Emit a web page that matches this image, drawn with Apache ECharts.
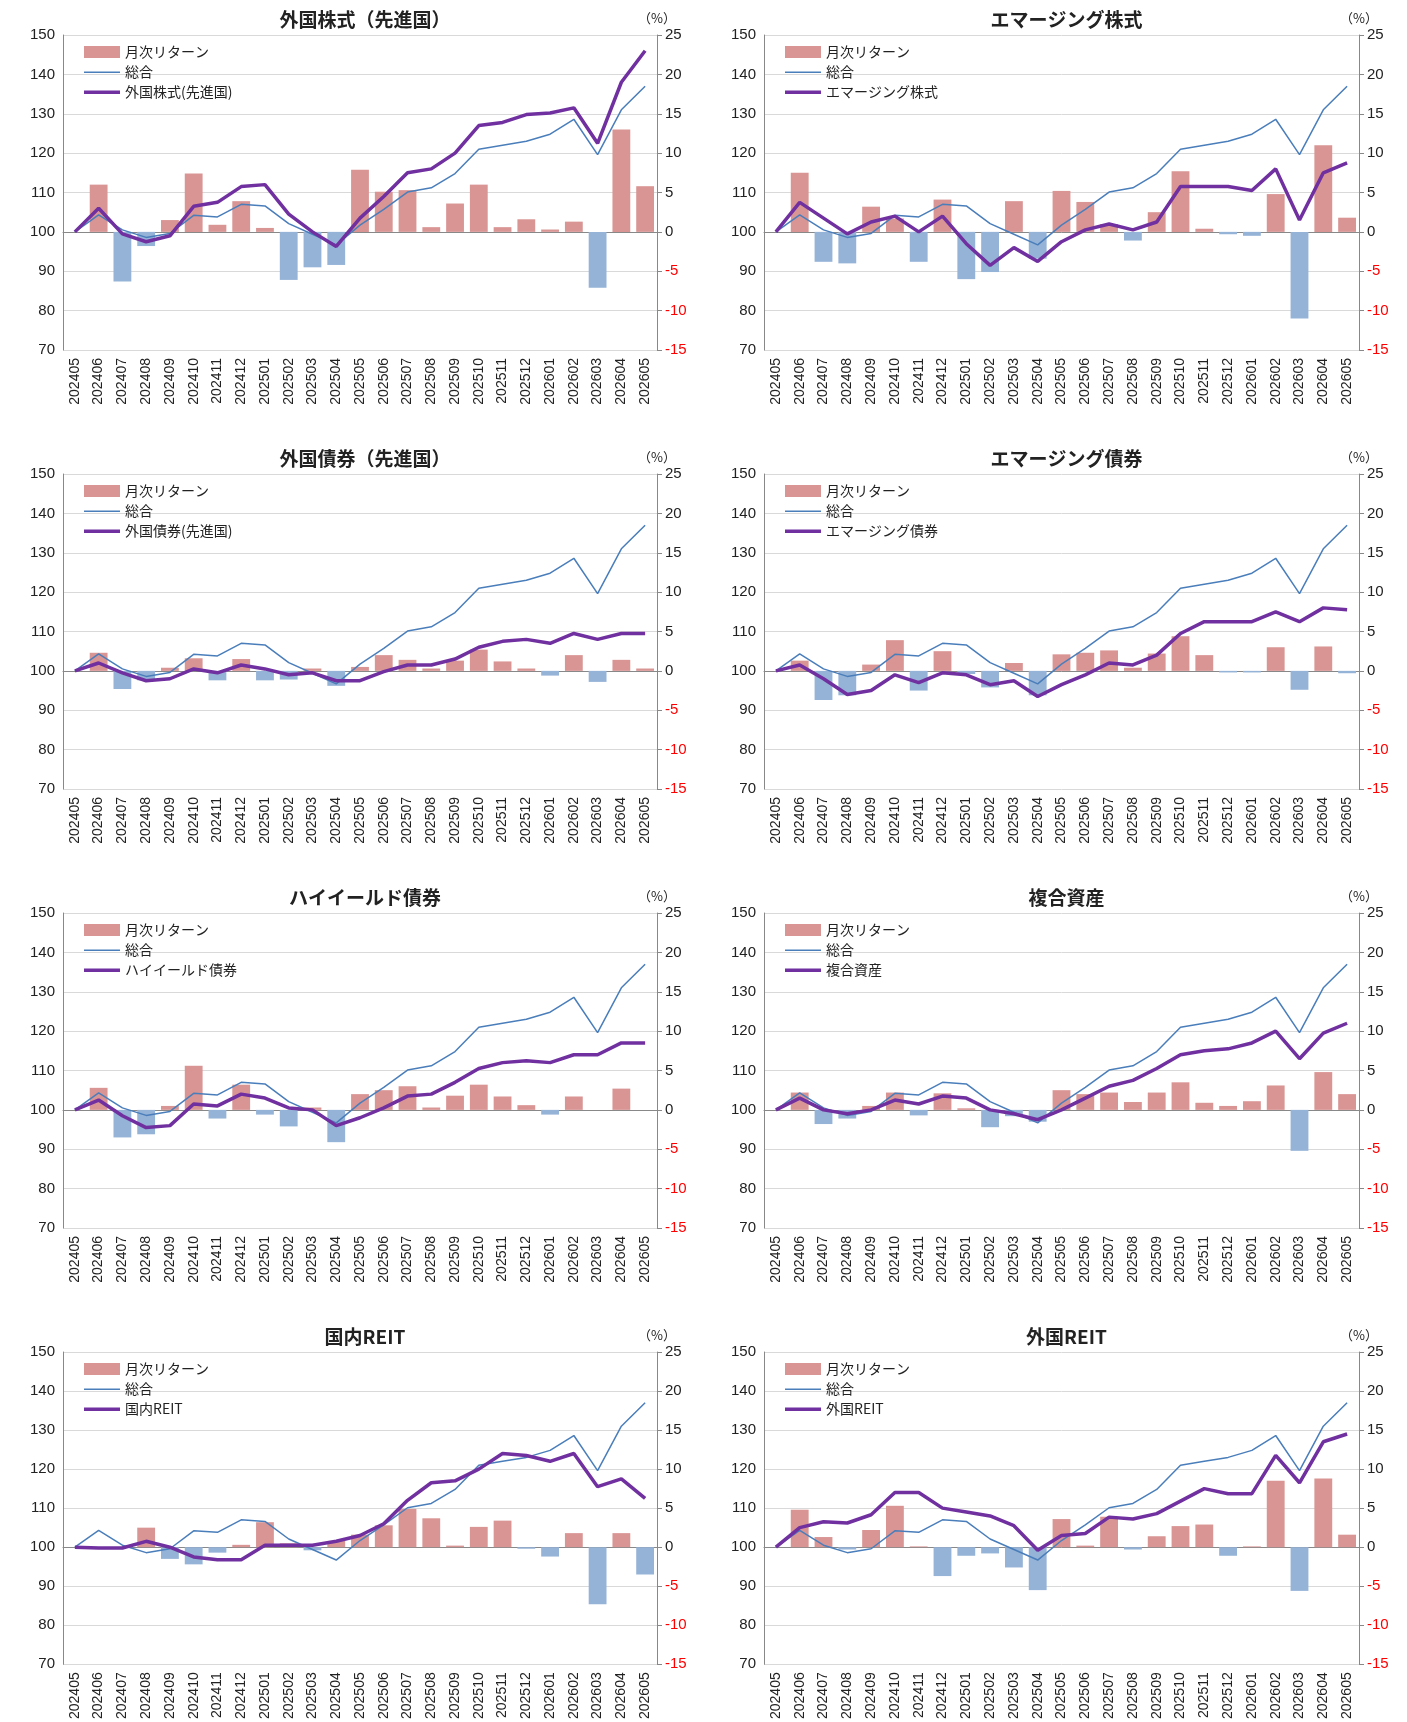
<!DOCTYPE html>
<html><head><meta charset="utf-8">
<script src="https://cdn.jsdelivr.net/npm/echarts@6/dist/echarts.min.js"></script>
<style>html,body{margin:0;background:#fff}#c{width:1407px;height:1722px}</style>
</head><body><div id="c"></div>
<script>
const months = ["202405","202406","202407","202408","202409","202410","202411","202412","202501","202502","202503","202504","202505","202506","202507","202508","202509","202510","202511","202512","202601","202602","202603","202604","202605"];
const total = [100,104.3,100.5,98.6,99.6,104.2,103.8,107,106.6,102.1,99.4,96.7,101.7,105.7,110.1,111.2,114.8,121,122,123,124.8,128.6,119.6,131,137];

const names = ["外国株式（先進国）","エマージング株式","外国債券（先進国）","エマージング債券","ハイイールド債券","複合資産","国内REIT","外国REIT"];
const legendNames = ["外国株式(先進国)","エマージング株式","外国債券(先進国)","エマージング債券","ハイイールド債券","複合資産","国内REIT","外国REIT"];

const lineDevStock = [100,106,99.5,97.5,99,106.5,107.5,111.5,112,104.5,100,96.3,103.5,109,115,116,120,127,127.8,129.8,130.2,131.5,122.5,138,146];
const barDevStock = [0,6,-6.3,-1.8,1.5,7.4,0.9,3.9,0.5,-6.1,-4.5,-4.2,7.9,5.1,5.3,0.6,3.6,6,0.6,1.6,0.3,1.3,-7.1,13,5.8];
const lineEmStock = [100,107.5,103.5,99.5,102.5,104,100,104,97,91.5,96,92.5,97.5,100.5,102,100.5,102.5,111.5,111.5,111.5,110.5,116,103,115,117.5];
const barEmStock = [0,7.5,-3.8,-4,3.2,1.7,-3.8,4.1,-6,-5.1,3.9,-3.4,5.2,3.8,1,-1.1,2.5,7.7,0.4,-0.3,-0.5,4.8,-11,11,1.8];
const lineDevBond = [100,102,99.5,97.5,98,100.5,99.5,101.5,100.5,99,99.5,97.5,97.5,99.8,101.5,101.5,103,106,107.5,108,107,109.5,108,109.5,109.5];
const barDevBond = [0,2.3,-2.3,-1.2,0.4,1.6,-1.2,1.5,-1.2,-1.1,0.3,-1.9,0.5,2,1.4,0.3,1.3,2.7,1.2,0.3,-0.6,2,-1.4,1.4,0.3];
const lineEmBond = [100,101.5,98,94,95,99,97,99.5,99,96.5,97.5,93.5,96.5,99,102,101.5,104,109.5,112.5,112.5,112.5,115,112.5,116,115.5];
const barEmBond = [0,1.3,-3.7,-3.1,0.8,3.9,-2.5,2.5,-0.4,-2.1,1,-3.1,2.1,2.3,2.6,0.4,2.2,4.4,2,-0.2,-0.2,3,-2.4,3.1,-0.3];
const lineHy = [100,102.5,98.5,95.5,96,101.5,101,104,103,100.5,100,96,98,100.5,103.5,104,107,110.5,112,112.5,112,114,114,117,117];
const barHy = [0,2.8,-3.5,-3.1,0.5,5.6,-1.1,3.2,-0.6,-2.1,0.3,-4.1,2,2.5,3,0.3,1.8,3.2,1.7,0.6,-0.6,1.7,0,2.7,0];
const lineMix = [100,103,100,99,100,102.5,101.5,103.5,103,100,99,97.5,100,103,106,107.5,110.5,114,115,115.5,117,120,113,119.5,122];
const barMix = [0,2.2,-1.8,-1.1,0.5,2.2,-0.7,2.1,0.2,-2.2,-0.8,-1.5,2.5,2,2.2,1,2.2,3.5,0.9,0.5,1.1,3.1,-5.2,4.8,2];
const lineJReit = [100,99.8,99.8,101.5,100,97.5,96.8,96.8,100.5,100.5,100.5,101.5,103,106,112,116.5,117,120,124,123.5,122,124,115.5,117.5,112.5];
const barJReit = [0,0,0,2.5,-1.5,-2.2,-0.7,0.3,3.2,0.5,-0.4,0.8,1.6,2.8,4.9,3.7,0.2,2.6,3.4,-0.2,-1.2,1.8,-7.3,1.8,-3.5];
const lineFReit = [100,105,106.5,106.2,108.3,114,114,110,109,108,105.5,99.2,103,103.5,107.7,107.2,108.6,111.8,115,113.7,113.7,123.5,116.5,127,129];
const barFReit = [0,4.8,1.3,-0.3,2.2,5.3,0.1,-3.7,-1.1,-0.8,-2.6,-5.5,3.6,0.2,3.9,-0.3,1.4,2.7,2.9,-1.1,0.1,8.5,-5.6,8.8,1.6];

const lines = [lineDevStock,lineEmStock,lineDevBond,lineEmBond,lineHy,lineMix,lineJReit,lineFReit];
const bars = [barDevStock,barEmStock,barDevBond,barEmBond,barHy,barMix,barJReit,barFReit];

const leftMin = 70, leftMax = 150, rightMin = -15, rightMax = 25;
const FONT = "'Noto Sans CJK JP', sans-serif";
const lefts = [63, 764], widths = [594, 595];
const tops = [35, 474, 913, 1352], gridH = 315;
const thinIcon = "path://M0,0h36v0.01h-36z M0,5.4h36v1.6h-36z M0,12h36v0.01h-36z";
const thickIcon = "path://M0,0h36v0.01h-36z M0,4.5h36v3.5h-36z M0,12h36v0.01h-36z";

const option = {animation:false, textStyle:{fontFamily:FONT}, title:[], grid:[], xAxis:[], yAxis:[], legend:[], series:[]};
names.forEach((name, i) => {
  const col = i % 2, row = Math.floor(i / 2);
  const l = lefts[col], t = tops[row];
  option.title.push({text:name, left:l + widths[col]/2, top:t - 30, textAlign:"center",
    textStyle:{fontSize:19, fontWeight:"bold", color:"#222", fontFamily:FONT}});
  option.grid.push({left:l, top:t, width:widths[col], height:gridH});
  option.xAxis.push({type:"category", gridIndex:i, data:months, boundaryGap:true,
    axisTick:{show:false}, axisLine:{lineStyle:{color:"#888"}},
    axisLabel:{rotate:90, fontSize:14, color:"#222", interval:0, fontFamily:"Liberation Sans"}});
  option.yAxis.push({type:"value", gridIndex:i, min:leftMin, max:leftMax, interval:10,
    axisLine:{show:true, lineStyle:{color:"#888"}}, axisTick:{show:false},
    splitLine:{lineStyle:{color:"#d9d9d9"}},
    axisLabel:{fontSize:15, color:"#222", fontFamily:"Liberation Sans"}});
  option.yAxis.push({type:"value", gridIndex:i, position:"right", min:rightMin, max:rightMax, interval:5,
    name:"（%）", nameGap:10, nameTextStyle:{fontSize:13, color:"#222", align:"center"},
    axisLine:{show:true, lineStyle:{color:"#888"}}, axisTick:{show:true, length:5, lineStyle:{color:"#888"}},
    splitLine:{show:false},
    axisLabel:{fontSize:15, fontFamily:"Liberation Sans", color:(v) => Number(v) < 0 ? "#ff0000" : "#222"}});
  option.legend.push({orient:"vertical", left:l + 16, top:t + 5, itemGap:6, itemWidth:36, itemHeight:12,
    data:[{name:"月次リターン", icon:"rect"}, {name:"総合", icon:thinIcon}, {name:legendNames[i], icon:thickIcon}],
    textStyle:{fontSize:14, color:"#222", fontFamily:FONT}, selectedMode:false});
  option.series.push({name:"月次リターン", type:"bar", xAxisIndex:i, yAxisIndex:i*2+1, barWidth:"75%",
    color:"#d99594",
    data:bars[i].map((v) => ({value:v, itemStyle:{color: v < 0 ? "#95b3d7" : "#d99594"}}))});
  option.series.push({name:"総合", type:"line", xAxisIndex:i, yAxisIndex:i*2, data:total,
    color:"#4a7ebb", symbol:"none", lineStyle:{width:1.5, color:"#4a7ebb"}});
  option.series.push({name:legendNames[i], type:"line", xAxisIndex:i, yAxisIndex:i*2, data:lines[i],
    color:"#7030a0", symbol:"none", lineStyle:{width:3.5, color:"#7030a0"}});
});

echarts.init(document.getElementById("c")).setOption(option);
</script></body></html>
